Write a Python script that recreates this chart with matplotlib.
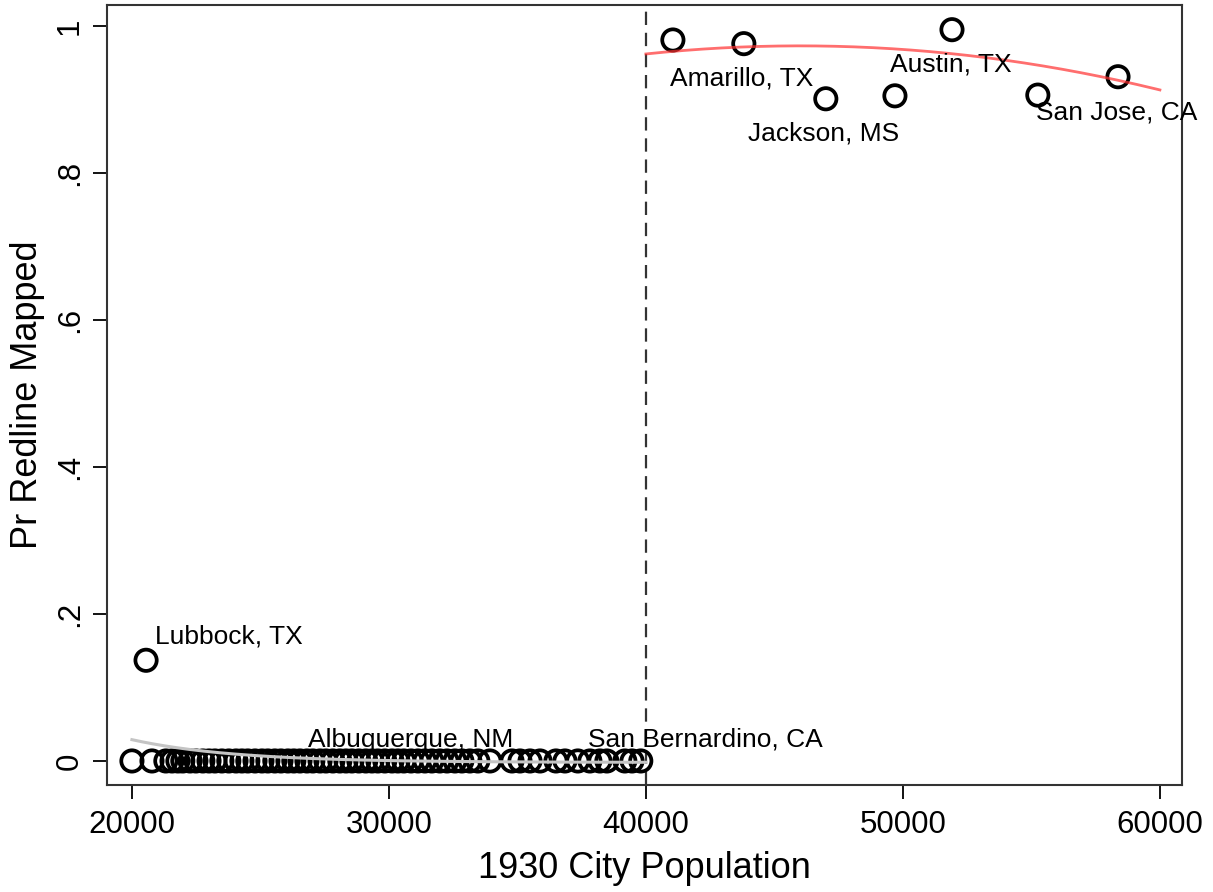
import numpy as np
import matplotlib
matplotlib.use("Agg")
import matplotlib.pyplot as plt

plt.rcParams['font.family'] = ['Liberation Sans', 'DejaVu Sans']

# Cities below the 40,000 threshold (not mapped except Lubbock)
pop_below = [20000, 20780, 21320, 21560, 21790, 21980, 22260, 22490, 22760, 23000,
             23230, 23500, 23770, 24050, 24280, 24510, 24790, 25060, 25290, 25560,
             25800, 26070, 26300, 26540, 26810, 27040, 27320, 27550, 27820, 28090,
             28330, 28560, 28830, 29100, 29340, 29570, 29840, 30120, 30350, 30580,
             30860, 31130, 31400, 31670, 31980, 32260, 32570, 32840, 33150, 33460,
             33930, 34790, 35100, 35490, 35880, 36500, 36850, 37350, 37820, 38210,
             38480, 39180, 39460, 39800]
mapped_below = [0.0] * len(pop_below)
lubbock_pop = 20550
lubbock_val = 0.137

# Cities above the threshold
pop_above = [41050, 43810, 47000, 49690, 51910, 55250, 58370]
mapped_above = [0.981, 0.976, 0.901, 0.905, 0.995, 0.906, 0.931]

# Fitted-curve parameters
# right side: quadratic  y = peak - curv * ((x - xpeak)/1000)^2
fit_right_peak = 0.973
fit_right_xpeak = 46000
fit_right_curv = 0.000306
# left side: decaying curve  y = floor + amp * exp(-(x - 20000)/scale)
fit_left_floor = -0.002
fit_left_amp = 0.031
fit_left_scale = 4000

# Labelled cities: text anchors
label_names = ["Lubbock, TX", "Albuquerque, NM", "San Bernardino, CA",
               "Amarillo, TX", "Austin, TX", "Jackson, MS", "San Jose, CA"]
label_x = [20900, 26850, 37740, 40930, 49490, 43970, 55170]
label_y = [0.169, 0.029, 0.029, 0.929, 0.947, 0.854, 0.883]

xticks = [20000, 30000, 40000, 50000, 60000]
yticks = [0, 0.2, 0.4, 0.6, 0.8, 1.0]
ytick_labels = ["0", ".2", ".4", ".6", ".8", "1"]

fig = plt.figure(figsize=(12.13, 8.92), dpi=100)
ax = fig.add_axes([107/1213, 1 - 785/892, (1182-107)/1213, (785-5)/892])

xb = np.array(pop_below + [lubbock_pop], dtype=float)
yb = np.array(mapped_below + [lubbock_val], dtype=float)
xa = np.array(pop_above, dtype=float)
ya = np.array(mapped_above, dtype=float)

gx = np.linspace(20000, 40000, 300)
rx = np.linspace(40000, 60000, 300)
gy = fit_left_floor + fit_left_amp * np.exp(-(gx - 20000) / fit_left_scale)
ry = fit_right_peak - fit_right_curv * ((rx - fit_right_xpeak) / 1000) ** 2
ax.plot(gx, gy, color='#c4c4c4', lw=2.2, zorder=3)
ax.plot(rx, ry, color='#ff3030', lw=2.0, alpha=0.7, zorder=3)

ms = 235
ax.scatter(xb, yb, s=ms, facecolors='none', edgecolors='black', linewidths=2.7, zorder=2)
ax.scatter(xa, ya, s=ms, facecolors='none', edgecolors='black', linewidths=2.7, zorder=2)

ax.axvline(40000, color='#333333', lw=1.6, ls=(0, (6, 3.5)), zorder=1)

for name, lx, ly in zip(label_names, label_x, label_y):
    ax.text(lx, ly, name, fontsize=19, ha='left', va='center', color='black', zorder=4,
            clip_on=False)

ax.set_xlim(19030, 60860)
ax.set_ylim(-0.0327, 1.0286)
ax.set_xticks(xticks)
ax.set_xticklabels([str(t) for t in xticks], fontsize=22.5)
ax.set_yticks(yticks)
ax.set_yticklabels(ytick_labels, fontsize=22.5, rotation=90, va='center')
ax.tick_params(direction='out', length=10, width=1.3, colors='black', pad=8)
ax.tick_params(axis='y', pad=6)
for sp in ax.spines.values():
    sp.set_linewidth(1.5)
    sp.set_color('#333333')

ax.set_xlabel("1930 City Population", fontsize=26)
ax.set_ylabel("Pr Redline Mapped", fontsize=26)
ax.xaxis.set_label_coords(0.5, -0.085)
ax.yaxis.set_label_coords(-0.058, 0.5)

fig.savefig("out.png", dpi=100, facecolor='white')
